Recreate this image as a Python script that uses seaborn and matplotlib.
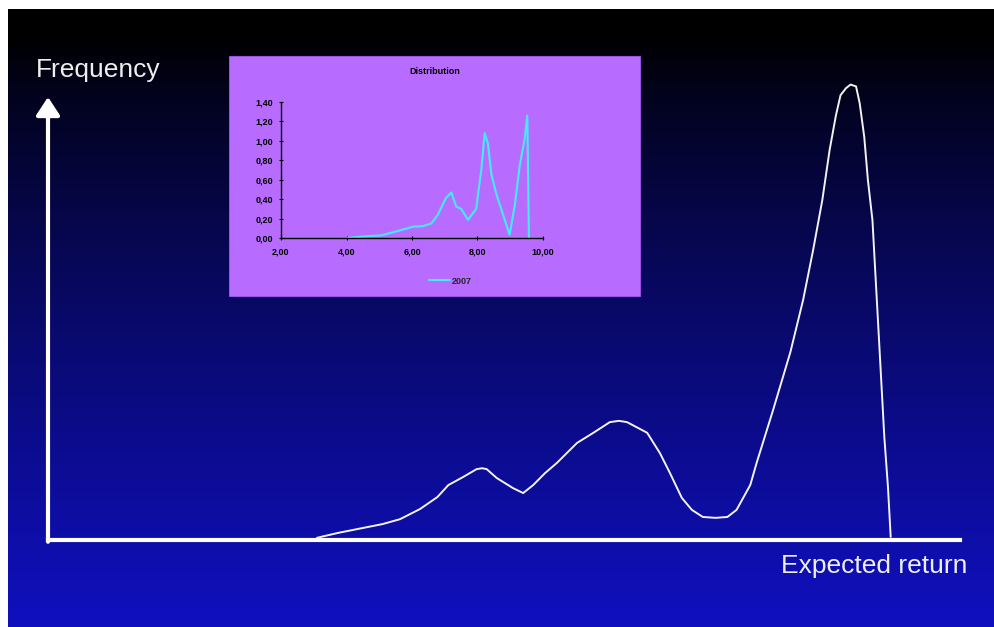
import numpy as np
import pandas as pd
import matplotlib
matplotlib.use("Agg")
import matplotlib.pyplot as plt
from matplotlib.patches import Rectangle
import seaborn as sns

sns.set_style("ticks")
plt.rcParams["font.family"] = ["Liberation Sans", "DejaVu Sans"]

# Main sketch: frequency of expected returns (arbitrary units)
main_return = [2.95, 3.18, 3.40, 3.67, 3.86, 4.08, 4.27, 4.39, 4.55, 4.70, 4.76, 4.81,
               4.92, 5.10, 5.21, 5.32, 5.45, 5.58, 5.80, 5.98, 6.16, 6.26, 6.35, 6.57,
               6.71, 6.82, 6.95, 7.06, 7.18, 7.32, 7.45, 7.55, 7.70, 7.77, 7.95, 8.14,
               8.28, 8.39, 8.49, 8.57, 8.64, 8.69, 8.75, 8.80, 8.86, 8.90, 8.95, 8.99,
               9.04, 9.07, 9.10, 9.13, 9.17, 9.21, 9.24]
main_freq = [0.005, 0.016, 0.025, 0.036, 0.047, 0.070, 0.097, 0.124, 0.142, 0.160, 0.162,
             0.160, 0.140, 0.117, 0.106, 0.124, 0.151, 0.174, 0.219, 0.242, 0.266, 0.269,
             0.266, 0.242, 0.196, 0.151, 0.095, 0.068, 0.052, 0.050, 0.052, 0.068, 0.124,
             0.174, 0.293, 0.424, 0.542, 0.655, 0.767, 0.880, 0.959, 1.004, 1.020, 1.028,
             1.024, 0.986, 0.910, 0.813, 0.722, 0.609, 0.497, 0.384, 0.233, 0.120, 0.007]

# Inset: 2007 distribution
inset_x = [4.04, 4.55, 5.06, 5.52, 6.03, 6.33, 6.59, 6.79, 7.03, 7.20, 7.35, 7.50,
           7.71, 7.96, 8.12, 8.22, 8.32, 8.42, 8.57, 8.98, 9.14, 9.29, 9.44, 9.52, 9.57]
inset_y = [0.00, 0.017, 0.027, 0.068, 0.116, 0.122, 0.150, 0.238, 0.408, 0.469,
           0.323, 0.30, 0.187, 0.30, 0.714, 1.08, 0.97, 0.663, 0.459, 0.034, 0.34,
           0.748, 1.02, 1.26, 0.00]
inset_xticks = [2, 4, 6, 8, 10]
inset_xlabels = ["2,00", "4,00", "6,00", "8,00", "10,00"]
inset_yticks = [0.0, 0.2, 0.4, 0.6, 0.8, 1.0, 1.2, 1.4]
inset_ylabels = ["0,00", "0,20", "0,40", "0,60", "0,80", "1,00", "1,20", "1,40"]
series_name = "2007"

W, H = 995, 627
fig = plt.figure(figsize=(W / 100, H / 100), dpi=100, facecolor="white")


def fx(px):
    return px / W


def fy(py):
    return 1 - py / H


# Slide background: black at the top fading into blue
bg = fig.add_axes([fx(8), 0, fx(W - 8), (H - 9) / H])
rows = np.arange(9, H)
f = np.clip((rows - 40) / (H - 40), 0, 1) ** 0.8
bottom_rgb = np.array([16, 16, 192]) / 255
grad = f[:, None] * bottom_rgb[None, :]
grad = np.repeat(grad[:, None, :], 2, axis=1)
bg.imshow(grad, aspect="auto", interpolation="bilinear")
bg.set_axis_off()

# Main axes
x0, x1 = 48, 960
y0 = 540
ypu = 443.0
ytop = 1.04
ax = fig.add_axes([fx(x0), fy(y0), fx(x1 - x0), ytop * ypu / H])
ax.set_facecolor("none")
df_main = pd.DataFrame({"ret": main_return, "freq": main_freq})
sns.lineplot(data=df_main, x="ret", y="freq", ax=ax, sort=False,
             color="#f2f2f2", lw=1.4, legend=False)
for ln in ax.get_lines():
    ln.set_solid_joinstyle("round")
ax.set_xlim(0, 10)
ax.set_ylim(0, ytop)
for s in ["top", "right", "left"]:
    ax.spines[s].set_visible(False)
ax.spines["bottom"].set_color("white")
ax.spines["bottom"].set_linewidth(3.0)
ax.set_xticks([])
ax.set_yticks([])
ax.set_xlabel("")
ax.set_ylabel("")
ax.annotate("", xy=(0, 1.0), xytext=(0, -0.004), xycoords="data",
            arrowprops=dict(arrowstyle="-|>,head_length=0.55,head_width=0.36",
                            lw=3.0, color="white", shrinkA=0, shrinkB=0,
                            mutation_scale=20),
            annotation_clip=False)

fig.text(fx(36), fy(70), "Frequency", color="#eeeeee", fontsize=19, va="center", ha="left")
fig.text(fx(781), fy(566), "Expected return", color="#eeeeee", fontsize=19, va="center", ha="left")

# Inset chart panel
fig.patches.append(Rectangle((fx(229.5), fy(296)), fx(640 - 229.5), (296 - 56) / H,
                             transform=fig.transFigure, facecolor="#b86cff",
                             edgecolor="#a458ee", lw=0.6, zorder=1))
iax = fig.add_axes([fx(281), fy(238), fx(543 - 281), (238 - 102) / H], zorder=3)
iax.set_facecolor("none")
df_in = pd.DataFrame({"x": inset_x, "y": inset_y, "series": series_name})
sns.lineplot(data=df_in, x="x", y="y", ax=iax, sort=False, color="#42ecff",
             lw=1.5, label=series_name)
iax.set_xlim(2, 10)
iax.set_ylim(0, 1.4)
iax.set_xticks(inset_xticks)
iax.set_xticklabels(inset_xlabels)
iax.set_yticks(inset_yticks)
iax.set_yticklabels(inset_ylabels)
iax.tick_params(axis="both", labelsize=6.5, length=3, width=0.8, direction="inout",
                colors="black")
iax.tick_params(axis="x", pad=5)
iax.tick_params(axis="y", pad=4)
for lbl in iax.get_xticklabels() + iax.get_yticklabels():
    lbl.set_fontweight("bold")
for s in ["top", "right"]:
    iax.spines[s].set_visible(False)
for s in ["left", "bottom"]:
    iax.spines[s].set_color("black")
    iax.spines[s].set_linewidth(1.0)
iax.set_xlabel("")
iax.set_ylabel("")
leg = iax.legend(loc="center", bbox_to_anchor=(fx(450), fy(281)),
                 bbox_transform=fig.transFigure, frameon=False, fontsize=6.5,
                 handlelength=2.4, handletextpad=0.1, borderpad=0)
for t in leg.get_texts():
    t.set_fontweight("bold")
fig.text(fx(435), fy(71), "Distribution", fontsize=6.5, fontweight="bold",
         ha="center", va="center", color="black", zorder=4)

fig.savefig("out.png", dpi=100, facecolor="white")
